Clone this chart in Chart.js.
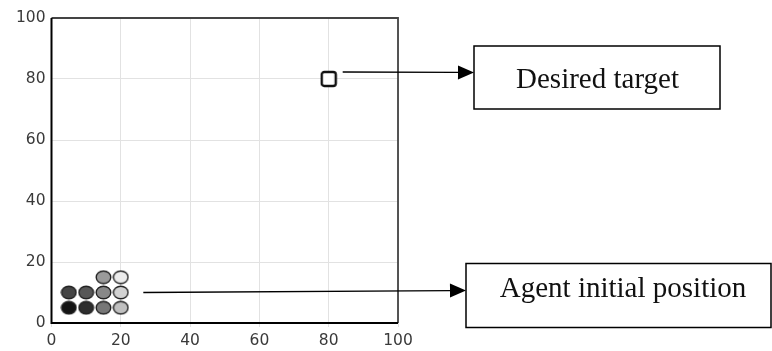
<!DOCTYPE html>
<html>
<head>
<meta charset="utf-8">
<script src="https://cdn.jsdelivr.net/npm/chart.js@4/dist/chart.umd.min.js"></script>
<style>
  html, body { margin: 0; padding: 0; background: #fff; }
  #wrap { width: 772px; height: 351px; }
</style>
</head>
<body>
<div id="wrap"><canvas id="chart" width="772" height="351"></canvas></div>
<script>
// agent start positions (10 agents)
const agentX = [5, 10, 15, 20, 5, 10, 15, 20, 15, 20];
const agentY = [5, 5, 5, 5, 10, 10, 10, 10, 15, 15];
// desired target
const targetX = [80];
const targetY = [80];
const tickValues = [0, 20, 40, 60, 80, 100];
const labelTarget = 'Desired target';
const labelAgent = 'Agent initial position';

// greyscale shade for each agent
const agentShades = ['#141414', '#2e2e2e', '#777777', '#c0c0c0',
                     '#444444', '#575757', '#888888', '#d2d2d2',
                     '#9a9a9a', '#ececec'];

// small ellipse marker, the agents are slightly wider than tall
function ellipseMarker(fill) {
    const c = document.createElement('canvas');
    c.width = 17; c.height = 15;
    const g = c.getContext('2d');
    g.beginPath();
    g.ellipse(8.5, 7.5, 7.3, 6.3, 0, 0, Math.PI * 2);
    g.fillStyle = fill;
    g.fill();
    g.lineWidth = 1.4;
    g.strokeStyle = '#222';
    g.stroke();
    return c;
}

// target marker: square with barely rounded corners
function squareMarker() {
    const c = document.createElement('canvas');
    c.width = 18; c.height = 18;
    const g = c.getContext('2d');
    g.beginPath();
    g.roundRect(2, 2, 14, 14, 2.5);
    g.fillStyle = '#fff';
    g.fill();
    g.lineWidth = 2.4;
    g.strokeStyle = '#111';
    g.stroke();
    return c;
}

function arrow(ctx, x1, y1, x2, y2) {
    const ang = Math.atan2(y2 - y1, x2 - x1);
    const len = 16, half = 7;
    ctx.beginPath();
    ctx.moveTo(x1, y1);
    ctx.lineTo(x2 - len * Math.cos(ang), y2 - len * Math.sin(ang));
    ctx.lineWidth = 1.3;
    ctx.strokeStyle = '#000';
    ctx.stroke();
    ctx.beginPath();
    ctx.moveTo(x2, y2);
    ctx.lineTo(x2 - len * Math.cos(ang) + half * Math.sin(ang), y2 - len * Math.sin(ang) - half * Math.cos(ang));
    ctx.lineTo(x2 - len * Math.cos(ang) - half * Math.sin(ang), y2 - len * Math.sin(ang) + half * Math.cos(ang));
    ctx.closePath();
    ctx.fillStyle = '#000';
    ctx.fill();
}

function labelBox(ctx, x, y, w, h, text, tx, baseline) {
    ctx.lineWidth = 1.5;
    ctx.strokeStyle = '#000';
    ctx.strokeRect(x, y, w, h);
    ctx.font = '29px "Liberation Serif", serif';
    ctx.fillStyle = '#111';
    ctx.textAlign = 'center';
    ctx.textBaseline = 'alphabetic';
    ctx.fillText(text, tx, baseline);
}

const frameAndNotes = {
    id: 'frameAndNotes',
    afterDatasetsDraw(chart) {
        const ctx = chart.ctx;
        const a = chart.chartArea;
        const xs = chart.scales.x, ys = chart.scales.y;
        ctx.save();
        // top & right frame
        ctx.strokeStyle = '#444';
        ctx.lineWidth = 1.8;
        ctx.beginPath();
        ctx.moveTo(a.left, a.top);
        ctx.lineTo(a.right, a.top);
        ctx.lineTo(a.right, a.bottom);
        ctx.stroke();
        // left & bottom axis lines
        ctx.strokeStyle = '#000';
        ctx.lineWidth = 2;
        ctx.beginPath();
        ctx.moveTo(a.left, a.top);
        ctx.lineTo(a.left, a.bottom);
        ctx.lineTo(a.right, a.bottom);
        ctx.stroke();

        // callouts
        arrow(ctx, xs.getPixelForValue(targetX[0]) + 14, ys.getPixelForValue(targetY[0]) - 7, 474, 72.5);
        labelBox(ctx, 474, 46, 246, 63, labelTarget, 597.5, 88);
        arrow(ctx, xs.getPixelForValue(26.5), ys.getPixelForValue(10), 466, 290.5);
        labelBox(ctx, 466, 263.5, 305, 64, labelAgent, 623, 297);
        ctx.restore();
    }
};

const tickFont = { family: '"DejaVu Sans", sans-serif', size: 15.5 };

new Chart(document.getElementById('chart'), {
    type: 'scatter',
    data: {
        datasets: [
            {
                label: 'agents',
                data: agentX.map((x, i) => ({ x: x, y: agentY[i] })),
                pointStyle: agentShades.map(ellipseMarker),
                pointRadius: 8,
                pointHoverRadius: 8
            },
            {
                label: 'target',
                data: targetX.map((x, i) => ({ x: x, y: targetY[i] })),
                pointStyle: squareMarker(),
                pointRadius: 9,
                pointHoverRadius: 9
            }
        ]
    },
    options: {
        responsive: false,
        animation: false,
        layout: { padding: { top: 18, right: 374, left: 0, bottom: 0 } },
        plugins: { legend: { display: false }, tooltip: { enabled: false } },
        scales: {
            x: {
                type: 'linear', min: 0, max: 100,
                afterBuildTicks: s => { s.ticks = tickValues.map(v => ({ value: v })); },
                afterFit: s => { s.height = 28; },
                grid: { color: '#e2e2e2', lineWidth: 1, tickLength: 4, drawTicks: true },
                border: { display: false },
                ticks: { font: tickFont, color: '#3a3a3a', padding: 5, maxRotation: 0 }
            },
            y: {
                type: 'linear', min: 0, max: 100,
                afterBuildTicks: s => { s.ticks = tickValues.map(v => ({ value: v })); },
                afterFit: s => { s.width = 51.5; },
                grid: { color: '#e2e2e2', lineWidth: 1, drawTicks: false },
                border: { display: false },
                ticks: { font: tickFont, color: '#3a3a3a', padding: 6 }
            }
        }
    },
    plugins: [frameAndNotes]
});
</script>
</body>
</html>
